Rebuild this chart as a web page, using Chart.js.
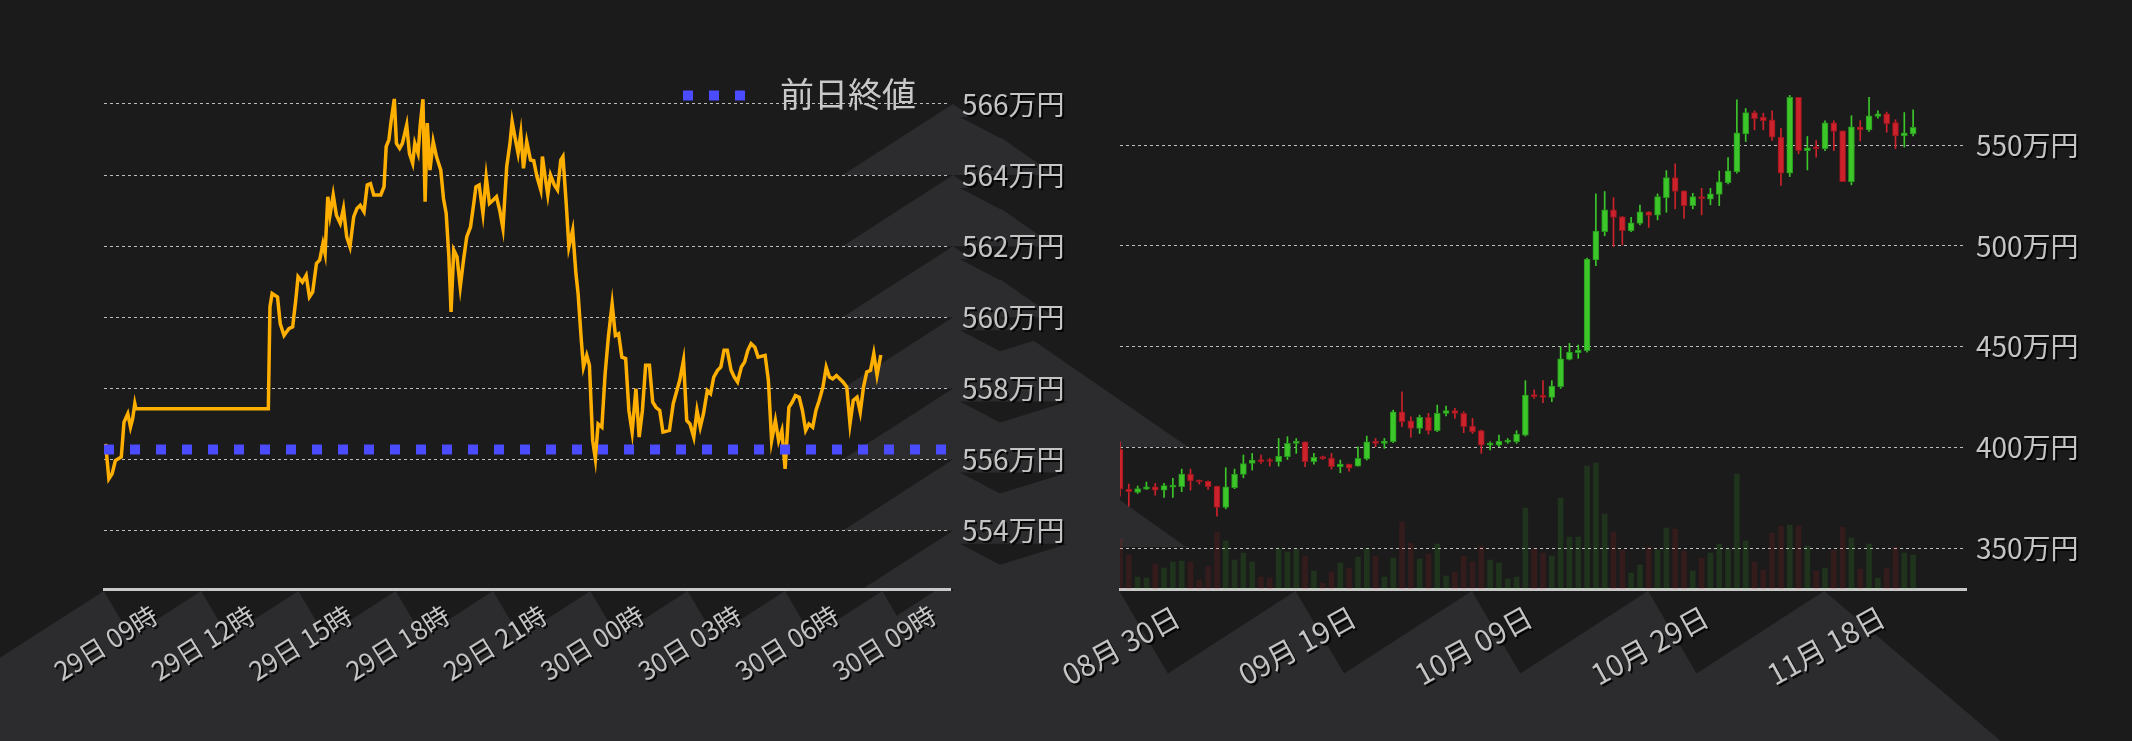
<!DOCTYPE html>
<html lang="ja">
<head>
<meta charset="utf-8">
<title>価格チャート</title>
<script src="https://cdn.jsdelivr.net/npm/chart.js@4.4.1/dist/chart.umd.min.js"></script>
<style>
  html, body { margin: 0; padding: 0; background: #1b1b1b; overflow: hidden; }
  .wrap { position: relative; width: 2132px; height: 741px; }
  .wrap canvas { position: absolute; left: 0; top: 0; }
</style>
</head>
<body>
<div class="wrap">
  <canvas id="dayChart" width="2132" height="741"></canvas>
  <canvas id="candleChart" width="2132" height="741"></canvas>
</div>
<script>
// ---- 1日チャート (minutes from 29日 00:00, price in 万円) ----
const lineMinutes = [449, 455, 461, 467, 478, 483, 490, 495, 499, 503, 505, 750, 753, 757, 767, 772, 779, 788, 795, 801,
  805, 813, 820, 826, 832, 839, 845, 851, 855, 860, 864, 870, 876, 883, 889, 895, 901, 908, 914, 920,
  927, 933, 939, 945, 958, 964, 968, 973, 977, 983, 987, 993, 998, 1006, 1011, 1017, 1021, 1027, 1031, 1036,
  1040, 1044, 1049, 1055, 1061, 1069, 1074, 1079, 1084, 1088, 1093, 1099, 1105, 1111, 1117, 1124, 1130, 1134, 1140, 1147,
  1153, 1159, 1166, 1172, 1178, 1184, 1191, 1197, 1201, 1206, 1212, 1217, 1222, 1228, 1235, 1241, 1247, 1254, 1257, 1262,
  1267, 1272, 1279, 1285, 1291, 1295, 1301, 1306, 1313, 1319, 1323, 1329, 1333, 1339, 1344, 1350, 1355, 1360, 1367, 1373,
  1379, 1386, 1392, 1398, 1404, 1411, 1417, 1423, 1430, 1436, 1442, 1448, 1455, 1461, 1467, 1474, 1480, 1492, 1499, 1511,
  1518, 1524, 1530, 1537, 1543, 1549, 1555, 1562, 1568, 1574, 1581, 1587, 1593, 1599, 1606, 1612, 1618, 1625, 1631, 1637,
  1643, 1650, 1656, 1669, 1675, 1681, 1688, 1694, 1700, 1706, 1713, 1719, 1725, 1732, 1738, 1744, 1750, 1757, 1763, 1769,
  1776, 1782, 1788, 1794, 1801, 1807, 1813, 1820, 1826, 1832, 1839, 1845, 1851, 1857, 1864, 1870, 1876, 1883];
const linePrices = [556.44, 555.46, 555.60, 555.97, 556.07, 557.05, 557.29, 556.91, 557.15, 557.57, 557.43, 557.43, 560.29, 560.67, 560.57, 559.82, 559.49, 559.68, 559.73, 560.52,
  561.14, 560.99, 561.18, 560.57, 560.71, 561.51, 561.61, 562.07, 561.79, 563.39, 562.87, 563.44, 562.87, 562.64, 563.06, 562.26, 561.98, 562.83, 563.06, 563.15,
  562.97, 563.72, 563.76, 563.44, 563.44, 563.67, 564.80, 564.99, 565.50, 566.14, 564.89, 564.75, 564.89, 565.41, 564.61, 564.33, 564.89, 564.61, 565.41, 566.13,
  563.25, 565.46, 564.14, 564.94, 564.52, 564.14, 563.34, 562.92, 561.70, 560.15, 561.89, 561.70, 560.85, 561.60, 562.26, 562.54, 563.20, 563.67, 563.72, 562.92,
  563.95, 563.20, 563.30, 563.39, 563.01, 562.50, 564.24, 564.89, 565.50, 565.08, 564.61, 565.17, 564.19, 564.94, 564.42, 564.40, 563.95, 563.58, 564.52, 563.95,
  563.44, 564.00, 563.72, 563.58, 564.42, 564.52, 563.20, 561.98, 562.45, 561.23, 560.67, 559.35, 558.60, 558.93, 558.65, 556.53, 556.02, 557.00, 556.91, 558.41,
  559.44, 560.38, 559.49, 559.54, 558.88, 558.84, 557.38, 556.77, 557.99, 556.63, 557.38, 558.65, 558.65, 557.62, 557.47, 557.38, 556.77, 556.82, 557.57, 558.23,
  558.79, 557.10, 557.00, 556.63, 557.38, 556.91, 557.29, 557.94, 557.85, 558.32, 558.51, 558.60, 559.07, 559.07, 558.51, 558.32, 558.18, 558.60, 558.74, 559.07,
  559.26, 559.16, 558.88, 558.93, 558.23, 556.53, 557.10, 556.53, 556.82, 555.74, 557.47, 557.61, 557.80, 557.75, 557.38, 556.82, 557.00, 556.91, 557.38, 557.66,
  558.04, 558.60, 558.32, 558.27, 558.36, 558.27, 558.18, 558.04, 557.00, 557.66, 557.75, 557.33, 558.04, 558.46, 558.51, 558.98, 558.37, 558.94];
const prevClose = 556.28;
const dayTickMinutes = [540, 720, 900, 1080, 1260, 1440, 1620, 1800, 1980];
const dayTickLabels = ['29日 09時', '29日 12時', '29日 15時', '29日 18時', '29日 21時', '30日 00時', '30日 03時', '30日 06時', '30日 09時'];

// ---- 日足 (万円) ----
const candleDates = ['08-23', '08-24', '08-25', '08-26', '08-27', '08-28', '08-29', '08-30', '08-31',
  '09-01', '09-02', '09-03', '09-04', '09-05', '09-06', '09-07', '09-08', '09-09', '09-10', '09-11', '09-12', '09-13', '09-14', '09-15',
  '09-16', '09-17', '09-18', '09-19', '09-20', '09-21', '09-22', '09-23', '09-24', '09-25', '09-26', '09-27', '09-28', '09-29', '09-30',
  '10-01', '10-02', '10-03', '10-04', '10-05', '10-06', '10-07', '10-08', '10-09', '10-10', '10-11', '10-12', '10-13', '10-14', '10-15', '10-16',
  '10-17', '10-18', '10-19', '10-20', '10-21', '10-22', '10-23', '10-24', '10-25', '10-26', '10-27', '10-28', '10-29', '10-30', '10-31',
  '11-01', '11-02', '11-03', '11-04', '11-05', '11-06', '11-07', '11-08', '11-09', '11-10', '11-11', '11-12', '11-13', '11-14', '11-15',
  '11-16', '11-17', '11-18', '11-19', '11-20', '11-21'];
const opens = [399.0, 379.3, 377.6, 379.3, 380.4, 378.8, 380.3, 380.5, 386.7, 383.8, 383.1, 380.8, 370.2, 380.0, 386.6, 392.0, 393.7, 393.4, 392.9, 395.4,
  402.0, 402.8, 392.9, 395.0, 394.7, 390.4, 391.7, 390.7, 394.3, 403.1, 402.0, 402.8, 417.7, 413.2, 409.4, 414.9, 408.3, 416.9, 418.2, 416.9,
  410.6, 408.3, 401.1, 401.1, 402.6, 402.8, 406.1, 425.9, 425.5, 424.8, 430.1, 443.7, 447.0, 448.0, 493.0, 507.1, 517.9, 514.4, 507.6, 511.2,
  516.9, 515.2, 524.0, 533.9, 527.3, 520.0, 524.5, 523.2, 525.5, 531.4, 536.9, 555.6, 566.2, 563.9, 562.6, 554.0, 536.1, 573.7, 547.3, 549.0,
  548.3, 561.1, 557.1, 531.9, 559.1, 557.6, 564.3, 565.6, 561.2, 554.6, 555.6];
const highs = [402.8, 381.8, 380.8, 382.8, 382.1, 382.1, 384.6, 389.2, 389.2, 383.8, 383.4, 380.8, 389.9, 389.2, 396.2, 397.0, 396.2, 394.5, 404.4, 405.3,
  404.4, 402.8, 397.0, 395.7, 397.0, 393.7, 391.7, 400.3, 405.6, 404.4, 404.4, 418.5, 427.6, 415.2, 416.0, 416.9, 421.0, 420.5, 419.4, 417.7,
  414.4, 408.6, 402.8, 406.1, 404.4, 408.3, 433.1, 428.5, 433.1, 433.1, 450.0, 451.6, 450.8, 493.9, 525.8, 527.0, 524.0, 514.6, 514.2, 520.3,
  517.0, 525.8, 537.4, 540.7, 527.3, 526.1, 528.6, 528.6, 537.2, 543.9, 572.5, 568.2, 567.0, 565.9, 567.0, 558.4, 574.7, 573.7, 554.3, 552.3,
  562.1, 562.1, 557.1, 564.6, 562.2, 573.7, 567.0, 566.4, 562.6, 566.2, 567.5];
const lows = [375.8, 370.8, 377.1, 379.1, 376.3, 375.1, 375.1, 378.0, 378.8, 381.8, 379.1, 365.9, 369.5, 379.5, 384.9, 388.7, 392.0, 390.7, 390.7, 394.0,
  397.0, 390.4, 391.7, 394.0, 389.2, 387.4, 388.2, 390.7, 393.7, 400.3, 399.5, 402.3, 410.3, 405.0, 406.9, 406.6, 407.8, 415.6, 414.4, 407.3,
  406.9, 397.0, 398.7, 400.3, 402.0, 402.0, 405.6, 424.3, 422.2, 422.7, 429.3, 443.4, 444.2, 447.2, 490.2, 505.0, 499.7, 500.5, 507.1, 510.4,
  509.2, 512.9, 516.7, 518.4, 513.7, 518.4, 515.4, 520.4, 520.0, 530.8, 536.1, 551.8, 557.6, 557.6, 552.3, 530.0, 534.4, 545.7, 537.7, 544.0,
  547.3, 547.3, 531.9, 530.3, 552.1, 556.8, 563.4, 556.4, 548.3, 549.0, 554.6];
const closes = [379.2, 378.0, 379.6, 380.4, 378.8, 381.0, 380.8, 386.7, 383.4, 382.8, 380.5, 370.2, 380.4, 386.7, 392.0, 393.7, 392.9, 393.0, 395.7, 402.0,
  402.6, 392.9, 395.0, 394.4, 390.4, 391.7, 389.7, 394.5, 402.8, 402.0, 403.1, 417.7, 412.7, 409.4, 414.9, 408.3, 416.9, 418.2, 416.9, 410.3,
  407.8, 401.1, 401.9, 403.1, 403.3, 406.6, 425.9, 425.2, 424.8, 430.4, 443.9, 447.3, 448.3, 493.5, 507.4, 517.9, 514.1, 507.6, 511.4, 516.9,
  515.1, 524.5, 533.9, 527.0, 520.0, 524.5, 523.5, 525.8, 531.8, 537.2, 556.1, 566.2, 563.1, 562.2, 554.0, 536.1, 573.7, 547.3, 548.7, 548.2,
  561.1, 556.8, 531.9, 559.1, 557.6, 564.6, 565.6, 560.7, 554.6, 556.1, 558.8];
const volumes = [50, 34, 12, 11, 25, 21, 27, 28, 27, 9, 23, 57, 48, 29, 36, 27, 12, 11, 40, 37,
  40, 33, 18, 6, 17, 26, 21, 32, 40, 33, 12, 31, 67, 46, 30, 35, 45, 13, 17, 33,
  27, 43, 29, 26, 10, 12, 81, 40, 36, 33, 91, 52, 52, 123, 126, 75, 57, 39, 16, 24,
  42, 39, 61, 60, 38, 18, 31, 36, 45, 40, 115, 48, 27, 19, 56, 63, 64, 63, 43, 18,
  21, 39, 62, 51, 20, 45, 11, 21, 42, 36, 34];
const candleTickDates = ['08-30', '09-19', '10-09', '10-29', '11-18'];

// ---- look ----
const H = 741;
const LIGHT = '#2c2c2e';
const DARK = '#1b1b1b';
const LABEL = '#c4c4c4';
const FONT = "'Noto Sans CJK JP', 'Noto Sans', sans-serif";
const UP = 'rgb(60, 198, 42)';
const DOWN = 'rgb(204, 34, 44)';

Chart.defaults.font.family = FONT;

// day offset from 08-30, candle sits at noon
function dayPos(s) {
  const [m, d] = s.split('-').map(Number);
  return (Date.UTC(2020, m - 1, d) - Date.UTC(2020, 7, 30)) / 864e5 + 0.5;
}
function dayLabel(s) {
  const [m, d] = s.split('-');
  return m + '月 ' + d + '日';
}

function poly(ctx, pts) {
  ctx.beginPath();
  ctx.moveTo(pts[0][0], pts[0][1]);
  for (let i = 1; i < pts.length; i++) ctx.lineTo(pts[i][0], pts[i][1]);
  ctx.closePath();
  ctx.fill();
}

// dark drop shadow only while the tick labels (z: 1) are painted
const labelShadow = {
  id: 'labelShadow',
  afterDatasetsDraw(chart) {
    const ctx = chart.ctx;
    ctx.shadowColor = 'rgba(0, 0, 0, 0.85)';
    ctx.shadowOffsetX = 2;
    ctx.shadowOffsetY = 2;
    ctx.shadowBlur = 0;
  },
  afterDraw(chart) {
    const ctx = chart.ctx;
    ctx.shadowColor = 'rgba(0, 0, 0, 0)';
    ctx.shadowOffsetX = 0;
    ctx.shadowOffsetY = 0;
  }
};

// grey slopes behind the labels of the left chart
const dayDeco = {
  id: 'dayDeco',
  beforeDraw(chart) {
    const { ctx, chartArea: a, scales: { x, y } } = chart;
    const base = a.bottom + 2;
    const peaks = x.ticks.map(t => x.getPixelForValue(t.value) - 51);
    const gap = peaks[1] - peaks[0];
    const rows = y.ticks.map(t => y.getPixelForValue(t.value)).sort((p, q) => p - q);
    const ax = a.right + 3;

    ctx.save();
    ctx.fillStyle = LIGHT;
    poly(ctx, [[0, base + peaks[0] * 0.644], [peaks[0], base], [1130, base], [1130, H], [0, H]]);
    rows.forEach((ty, i) => {
      const ny = i < rows.length - 1 ? rows[i + 1] : a.bottom;
      const h = ny - ty;
      poly(ctx, [[ax, ty], [ax + h / 0.7, ny], [ax - h / 0.644, ny]]);
    });
    // band running down to the second chart
    poly(ctx, [[ax, a.top + 190], [1188, 447], [1120, 447], [1120, 500], [1186, 547], [1120, 547], [1120, base], [ax, base]]);

    ctx.fillStyle = DARK;
    peaks.forEach((p, i) => {
      const next = i < peaks.length - 1 ? peaks[i + 1] : Math.min(p + gap, a.right - 15);
      const d = (next - p) * 0.646 / 2.346;
      poly(ctx, [[p, base], [next, base], [p + d, base + 1.7 * d]]);
    });
    rows.forEach(ty => poly(ctx, [[a.right + 10, ty + 13], [a.right + 118, ty + 13], [a.right + 50, ty + 34]]));
    ctx.restore();
  }
};

// legend: three blue squares + 前日終値
const prevCloseKey = {
  id: 'prevCloseKey',
  afterDraw(chart) {
    const { ctx, chartArea: a } = chart;
    const ds = chart.data.datasets[1];
    ctx.save();
    ctx.font = '34px ' + FONT;
    ctx.fillStyle = '#c8c8c8';
    ctx.textAlign = 'right';
    ctx.textBaseline = 'middle';
    const tx = a.right - 34;
    ctx.fillText(ds.label, tx, a.top - 1);
    const w = ctx.measureText(ds.label).width;
    ctx.strokeStyle = ds.borderColor;
    ctx.lineWidth = ds.borderWidth;
    ctx.setLineDash(ds.borderDash);
    ctx.beginPath();
    ctx.moveTo(tx - w - 97, a.top + 0.5);
    ctx.lineTo(tx - w - 35, a.top + 0.5);
    ctx.stroke();
    ctx.restore();
  }
};

// grey band under the candle chart's date labels
const candleDeco = {
  id: 'candleDeco',
  beforeDraw(chart) {
    const { ctx, chartArea: a, scales: { x } } = chart;
    const base = a.bottom + 2;
    const peaks = x.ticks.map(t => x.getPixelForValue(t.value) - 58);
    const last = peaks[peaks.length - 1];
    ctx.save();
    ctx.fillStyle = LIGHT;
    poly(ctx, [[peaks[0] - 20, base], [last, base], [last + (H - base) / 0.85, H], [peaks[0] - 20, H]]);
    ctx.fillStyle = DARK;
    for (let i = 0; i < peaks.length - 1; i++) {
      const p = peaks[i];
      const next = peaks[i + 1];
      const d = (next - p) * 0.646 / 2.346;
      poly(ctx, [[p, base], [next, base], [p + d, base + 1.7 * d]]);
    }
    ctx.restore();
  }
};

const yTicks = (size) => ({ padding: 12, color: LABEL, font: { size: size }, z: 1, includeBounds: false });

new Chart(document.getElementById('dayChart'), {
  type: 'line',
  data: {
    datasets: [
      {
        label: '価格',
        data: lineMinutes.map((m, i) => ({ x: m, y: linePrices[i] })),
        borderColor: '#ffaf00',
        borderWidth: 3.5,
        pointRadius: 0,
        order: 2,
      },
      {
        label: '前日終値',
        data: [{ x: 446, y: prevClose }, { x: 2011, y: prevClose }],
        borderColor: '#4b4bff',
        borderWidth: 10,
        borderDash: [10, 16],
        borderCapStyle: 'butt',
        pointRadius: 0,
        order: 1,
      },
    ],
  },
  options: {
    responsive: false,
    animation: false,
    devicePixelRatio: 1,
    layout: { padding: { left: 104, top: 95, right: 1062, bottom: 0 } },
    plugins: { legend: { display: false }, tooltip: { enabled: false } },
    scales: {
      x: {
        type: 'linear',
        min: 446,
        max: 2011,
        afterBuildTicks: s => { s.ticks = dayTickMinutes.map(v => ({ value: v })); },
        afterFit: s => { s.height = 152; },
        grid: { display: false, drawTicks: false },
        border: { display: true, color: '#c8c8c8', width: 3 },
        ticks: {
          autoSkip: false, minRotation: 32, maxRotation: 32, padding: 10,
          color: LABEL, font: { size: 26 }, z: 1,
          callback: v => dayTickLabels[dayTickMinutes.indexOf(v)],
        },
      },
      y: {
        position: 'right',
        min: 552.36,
        max: 566.25,
        afterFit: s => { s.width = 120; },
        grid: { color: '#bdbdbd', lineWidth: 1, drawTicks: false },
        border: { display: false, dash: [3, 3] },
        ticks: Object.assign(yTicks(28), { stepSize: 2, callback: v => v + '万円' }),
      },
    },
  },
  plugins: [dayDeco, labelShadow, prevCloseKey],
});

const isUp = opens.map((o, i) => closes[i] >= o);

new Chart(document.getElementById('candleChart'), {
  type: 'bar',
  data: {
    datasets: [
      {
        label: '実体',
        data: candleDates.map((d, i) => ({ x: dayPos(d), y: [opens[i], closes[i]] })),
        backgroundColor: isUp.map(u => (u ? UP : DOWN)),
        borderColor: isUp.map(u => (u ? 'rgb(40, 150, 30)' : 'rgb(150, 22, 30)')),
        borderWidth: 1,
        borderSkipped: false,
        barThickness: 6,
        minBarLength: 2,
        order: 1,
      },
      {
        label: 'ヒゲ',
        data: candleDates.map((d, i) => ({ x: dayPos(d), y: [lows[i], highs[i]] })),
        backgroundColor: isUp.map(u => (u ? UP : DOWN)),
        barThickness: 1,
        order: 2,
      },
      {
        label: '出来高',
        data: candleDates.map((d, i) => ({ x: dayPos(d), y: volumes[i] })),
        backgroundColor: isUp.map(u => (u ? 'rgba(60, 198, 42, 0.14)' : 'rgba(204, 34, 44, 0.14)')),
        barThickness: 5,
        yAxisID: 'y2',
        order: 3,
      },
    ],
  },
  options: {
    responsive: false,
    animation: false,
    devicePixelRatio: 1,
    layout: { padding: { left: 1120, top: 95, right: 0, bottom: 0 } },
    datasets: { bar: { grouped: false, clip: 0 } },
    plugins: { legend: { display: false }, tooltip: { enabled: false } },
    scales: {
      x: {
        type: 'linear',
        offset: false,
        min: -6.5,
        max: 89.5,
        afterBuildTicks: s => { s.ticks = candleTickDates.map(d => ({ value: dayPos(d) - 0.5 })); },
        afterFit: s => { s.height = 152; },
        grid: { display: false, drawTicks: false },
        border: { display: true, color: '#c8c8c8', width: 3 },
        ticks: {
          autoSkip: false, minRotation: 29, maxRotation: 29, padding: 10,
          color: LABEL, font: { size: 29 }, z: 1,
          callback: v => dayLabel(candleTickDates[candleTickDates.map(d => dayPos(d) - 0.5).indexOf(v)]),
        },
      },
      y: {
        position: 'right',
        min: 329.7,
        max: 574.9,
        afterFit: s => { s.width = 166; },
        grid: { color: '#bdbdbd', lineWidth: 1, drawTicks: false },
        border: { display: false, dash: [3, 3] },
        ticks: Object.assign(yTicks(28), { stepSize: 50, padding: 10, callback: v => v + '万円' }),
      },
      y2: { display: false, min: 0, max: 494 },
    },
  },
  plugins: [candleDeco, labelShadow],
});
</script>
</body>
</html>
